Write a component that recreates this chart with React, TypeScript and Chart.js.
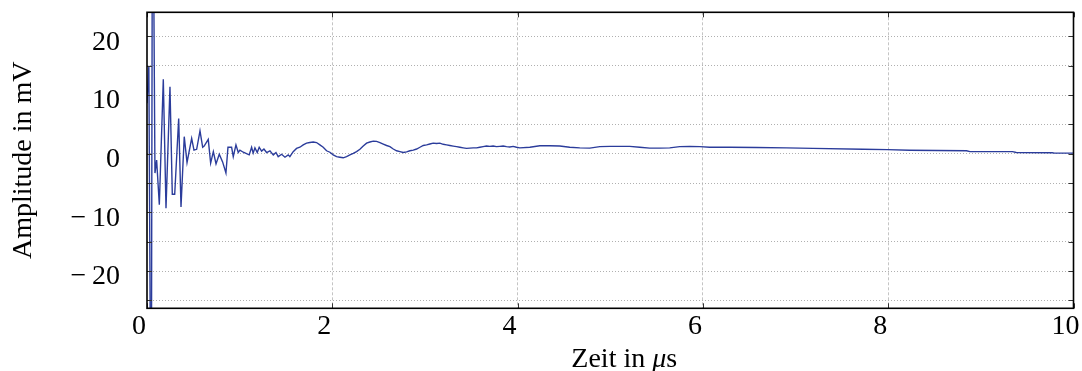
import React, { useEffect, useRef } from 'react';
import { Chart, registerables } from 'chart.js';

Chart.register(...registerables);

// Time axis in microseconds
const timeUs = [
  0.0, 0.02, 0.045, 0.06, 0.086, 0.104, 0.133, 0.176, 0.205, 0.248,
  0.273, 0.299, 0.342, 0.367, 0.402, 0.432, 0.482, 0.507, 0.536, 0.572,
  0.601, 0.617, 0.661, 0.687, 0.716, 0.745, 0.78, 0.816, 0.852, 0.874,
  0.913, 0.931, 0.96, 0.985, 1.003, 1.039, 1.103, 1.129, 1.146, 1.165,
  1.19, 1.211, 1.237, 1.262, 1.291, 1.327, 1.363, 1.392, 1.416, 1.453,
  1.489, 1.524, 1.542, 1.578, 1.614, 1.65, 1.686, 1.722, 1.758, 1.794,
  1.83, 1.866, 1.902, 1.938, 1.974, 2.01, 2.046, 2.082, 2.118, 2.154,
  2.19, 2.226, 2.262, 2.298, 2.334, 2.37, 2.406, 2.442, 2.478, 2.514,
  2.55, 2.586, 2.622, 2.658, 2.694, 2.73, 2.766, 2.802, 2.838, 2.874,
  2.91, 2.946, 2.982, 3.018, 3.053, 3.089, 3.125, 3.161, 3.197, 3.233,
  3.269, 3.305, 3.341, 3.377, 3.413, 3.449, 3.485, 3.521, 3.557, 3.592,
  3.628, 3.664, 3.7, 3.736, 3.772, 3.808, 3.844, 3.88, 3.916, 3.952,
  3.988, 4.024, 4.132, 4.24, 4.347, 4.455, 4.563, 4.671, 4.779, 4.887,
  4.995, 5.103, 5.21, 5.318, 5.426, 5.534, 5.642, 5.75, 5.858, 5.966,
  6.073, 6.181, 6.289, 6.577, 6.9, 7.188, 7.727, 7.994, 8.231, 8.846,
  8.882, 9.342, 9.382, 9.77, 9.795, 10.0,
];

// Amplitude in mV
const amplitudeMv = [
  8.6, 15.0, -60, 60, -3.3, -1.1, -8.7, 12.7, -9.3, 11.4,
  -6.9, -6.9, 6.0, -9.1, 2.9, -1.5, 2.6, 0.6, 0.75, 3.9,
  1.1, 1.3, 2.45, -1.6, 0.35, -1.75, -0.1, -1.4, -3.3, 1.1,
  1.1, -0.5, 1.5, 0.2, 0.6, 0.25, -0.2, 1.1, 0.1, 1.0,
  0.2, 1.1, 0.45, 0.8, 0.2, 0.5, -0.2, 0.2, -0.5, -0.1,
  -0.6, -0.2, -0.5, 0.35, 0.9, 1.1, 1.5, 1.8, 1.9, 2.0,
  1.9, 1.5, 1.1, 0.5, 0.25, -0.2, -0.5, -0.6, -0.7, -0.5,
  -0.2, 0.05, 0.35, 0.75, 1.3, 1.8, 2.0, 2.15, 2.1, 1.9,
  1.65, 1.4, 1.2, 0.8, 0.5, 0.35, 0.2, 0.3, 0.5, 0.6,
  0.8, 1.1, 1.4, 1.5, 1.65, 1.8, 1.75, 1.8, 1.6, 1.5,
  1.4, 1.3, 1.2, 1.1, 1.0, 0.9, 0.95, 1.0, 1.0, 1.1,
  1.2, 1.3, 1.25, 1.3, 1.2, 1.25, 1.3, 1.2, 1.15, 1.25,
  1.1, 1.0, 1.1, 1.35, 1.35, 1.3, 1.1, 1.0, 0.95, 1.2,
  1.25, 1.25, 1.25, 1.1, 0.95, 0.95, 1.0, 1.2, 1.25, 1.2,
  1.1, 1.1, 1.1, 1.05, 1.0, 0.9, 0.75, 0.7, 0.6, 0.5,
  0.35, 0.35, 0.2, 0.15, 0.1, 0.1,
];

const xTickValues = [0, 2, 4, 6, 8, 10];
const yLabelValues = [-20, -10, 0, 10, 20];
const xTitleParts = [
  { text: 'Zeit in ', italic: false },
  { text: '\u03bc', italic: true },
  { text: 's', italic: false },
];

const FONT = "'Liberation Serif', 'Times New Roman', serif";
const LINE_COLOR = '#2b3c9b';

const fmt = (v: number) => (v < 0 ? '\u2212\u2009' + Math.abs(v) : String(v));

const framePlugin = {
  id: 'frame',
  afterDatasetsDraw(chart: any) {
    const { ctx, chartArea, scales } = chart;
    const { left, right, top, bottom } = chartArea;
    ctx.save();
    ctx.strokeStyle = '#333';
    ctx.lineWidth = 1;
    ctx.setLineDash([]);
    const tl = 5;
    scales.y.ticks.forEach((t: any) => {
      const y = Math.round(scales.y.getPixelForValue(t.value)) + 0.5;
      ctx.beginPath();
      ctx.moveTo(left, y);
      ctx.lineTo(left + tl, y);
      ctx.moveTo(right, y);
      ctx.lineTo(right - tl, y);
      ctx.stroke();
    });
    xTickValues.forEach((v) => {
      const x = Math.round(scales.x.getPixelForValue(v)) + 0.5;
      ctx.beginPath();
      ctx.moveTo(x, bottom);
      ctx.lineTo(x, bottom - tl);
      ctx.moveTo(x, top);
      ctx.lineTo(x, top + tl);
      ctx.stroke();
    });
    ctx.strokeStyle = '#000';
    ctx.lineWidth = 1.6;
    ctx.strokeRect(left, top, right - left, bottom - top);

    // x-axis title with italic mu
    ctx.fillStyle = '#000';
    ctx.textBaseline = 'alphabetic';
    ctx.textAlign = 'left';
    const fontFor = (it: boolean) => (it ? 'italic ' : '') + '28px ' + FONT;
    let total = 0;
    xTitleParts.forEach((p) => {
      ctx.font = fontFor(p.italic);
      total += ctx.measureText(p.text).width;
    });
    const cx = (left + right) / 2 + 14;
    let x = cx - total / 2;
    const baseY = bottom + 58.5;
    xTitleParts.forEach((p) => {
      ctx.font = fontFor(p.italic);
      ctx.fillText(p.text, x, baseY);
      x += ctx.measureText(p.text).width;
    });
    ctx.restore();
  },
};

export default function App() {
  const canvasRef = useRef<HTMLCanvasElement | null>(null);

  useEffect(() => {
    if (!canvasRef.current) return;
    const points = timeUs.map((t, i) => ({ x: t, y: amplitudeMv[i] }));
    const chart = new Chart(canvasRef.current, {
      type: 'line',
      data: {
        datasets: [
          {
            data: points,
            borderColor: LINE_COLOR,
            borderWidth: 1.4,
            pointRadius: 0,
            fill: false,
            tension: 0,
          },
        ],
      },
      options: {
        animation: false,
        responsive: true,
        maintainAspectRatio: false,
        devicePixelRatio: 1,
        layout: {
          autoPadding: false,
          padding: { top: 12.3, right: 8.5, left: 0, bottom: 0 },
        },
        plugins: {
          legend: { display: false },
          tooltip: { enabled: false },
        },
        scales: {
          x: {
            type: 'linear',
            min: 0,
            max: 10,
            afterFit: (s: any) => {
              s.height = 62.7;
              s.paddingLeft = 0;
              s.paddingRight = 0;
              s.paddingTop = 0;
              s.paddingBottom = 0;
            },
            afterBuildTicks: (s: any) => {
              s.ticks = xTickValues.map((v) => ({ value: v }));
            },
            ticks: {
              font: { family: FONT, size: 28 },
              color: '#000',
              padding: 2,
              labelOffset: -8,
              maxRotation: 0,
              autoSkip: false,
              callback: (v: any) => String(v),
            },
            grid: {
              drawTicks: false,
              color: (ctx: any) =>
                ctx.tick && (ctx.tick.value === 0 || ctx.tick.value === 10)
                  ? 'rgba(0,0,0,0)'
                  : '#c4c4c4',
              lineWidth: 1,
            },
            border: { display: false, dash: [3, 2] },
            title: { display: false },
          },
          y: {
            type: 'linear',
            min: -26.35,
            max: 24.1,
            afterFit: (s: any) => {
              s.width = 147;
              s.paddingLeft = 0;
              s.paddingRight = 0;
              s.paddingTop = 0;
              s.paddingBottom = 0;
            },
            ticks: {
              stepSize: 5,
              includeBounds: false,
              font: { family: FONT, size: 28 },
              color: '#000',
              padding: 27,
              labelOffset: 6,
              autoSkip: false,
              callback: (v: any) => (yLabelValues.includes(Number(v)) ? fmt(Number(v)) : ''),
            },
            grid: {
              drawTicks: false,
              color: '#b0b0b0',
              lineWidth: 1,
            },
            border: { display: false, dash: [1, 2] },
            title: {
              display: true,
              text: 'Amplitude in mV',
              font: { family: FONT, size: 28, lineHeight: 1 },
              color: '#000',
              padding: { top: 9.5, bottom: 0 },
            },
          },
        },
      },
      plugins: [framePlugin],
    } as any);
    return () => chart.destroy();
  }, []);

  return (
    <div style={{ position: 'absolute', left: 0, top: 0, width: 1082, height: 371, background: '#fff' }}>
      <canvas ref={canvasRef} />
    </div>
  );
}
